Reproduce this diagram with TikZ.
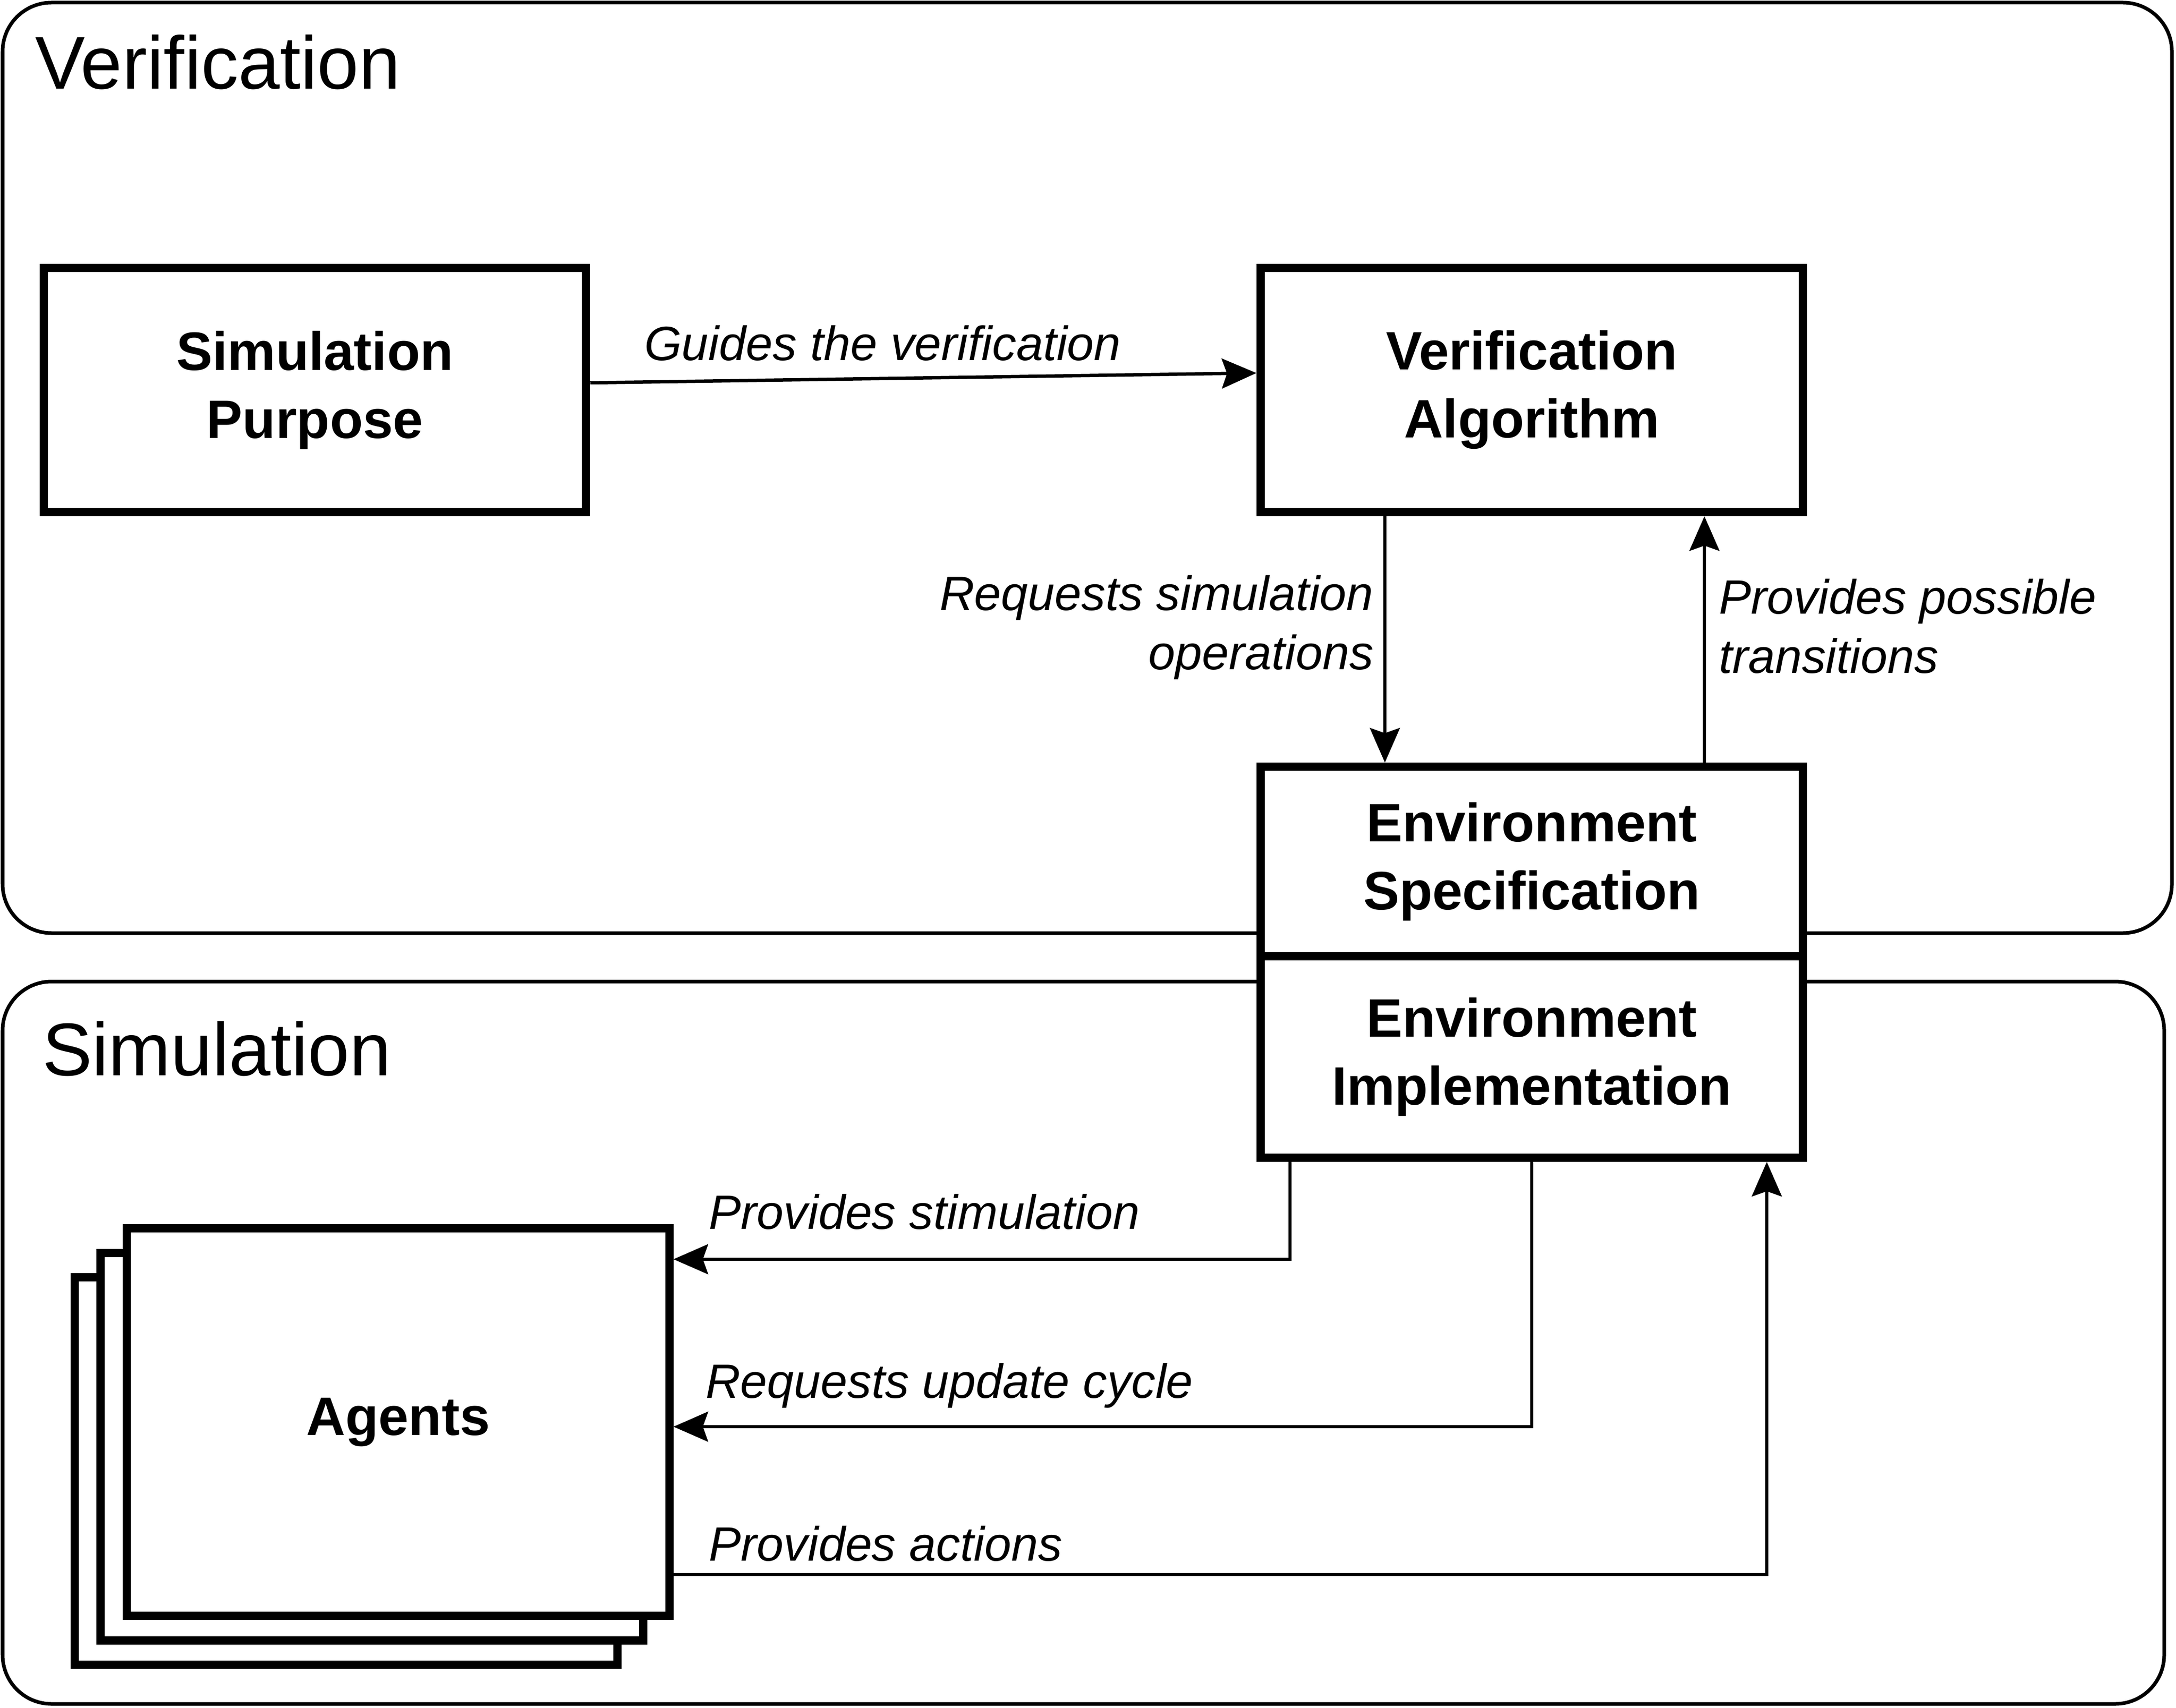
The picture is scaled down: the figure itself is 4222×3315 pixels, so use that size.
\documentclass[tikz,border=0pt]{standalone}
\usepackage{fontspec}
\setmainfont{Liberation Sans}
\usetikzlibrary{arrows.meta}
\tikzset{
  region/.style={draw,line width=1.4pt,rounded corners=19pt},
  block/.style={draw,fill=white,shape=rectangle,line width=3.2pt,minimum width=210.5pt,inner sep=0pt,align=center,font=\fontsize{21}{26.4}\selectfont\bfseries},
  flow/.style={line width=1.3pt,-{Stealth[length=13.4pt,width=11.6pt,inset=2pt]}},
  lab/.style={inner sep=0pt,font=\fontsize{18.7}{23}\selectfont\itshape},
  title/.style={inner sep=0pt,anchor=base west,font=\fontsize{29}{34}\selectfont}
}
\begin{document}
\begin{tikzpicture}[x=0.2pt,y=-0.2pt]
\useasboundingbox (0,0) rectangle (4222,3315);

\draw[region] (5,5) rectangle (4214,1811);
\draw[region] (5,1905) rectangle (4199,3307);
\node (vertitle) [title] at (67,173) {Verification};
\node (simtitle) [title] at (81,2087) {Simulation};

\node (purpose) [block,minimum height=94.8pt] at (611,757) {Simulation\\Purpose};
\node (algorithm) [block,minimum height=94.8pt] at (2972,757) {Verification\\Algorithm};
\node (envspec) [block,minimum height=73.6pt] at (2972,1672) {Environment\\Specification};
\node (envimpl) [block,minimum height=78.2pt] at (2972,2051.5) {Environment\\Implementation};

\node (agentsback) [block,minimum height=150.4pt] at (671.5,2855) {};
\node (agentsmid) [block,minimum height=150.4pt] at (721.5,2807.5) {};
\node (agents) [block,minimum height=150.4pt] at (772.5,2760) {Agents};

\draw[flow] ([yshift=2.8pt]purpose.east) -- ([yshift=6.6pt]algorithm.west);
\draw[flow] ([xshift=-57pt]algorithm.south) -- ([xshift=-57pt]envspec.north);
\draw[flow] ([xshift=67pt]envspec.north) -- ([xshift=67pt]algorithm.south);
\draw[flow] ([xshift=-93.8pt]envimpl.south) |- ([yshift=63.2pt]agents.east);
\draw[flow] (envimpl.south) |- ([yshift=-1.8pt]agents.east);
\draw[flow] ([yshift=-59.2pt]agents.east) -| ([xshift=91.2pt]envimpl.south);

\node (guides) [lab,anchor=base west] at (1249,700) {Guides the verification};
\node (requests) [lab,anchor=base east,align=right] at (2666,1299) {Requests simulation\\operations};
\node (possible) [lab,anchor=base west,align=left] at (3334,1306) {Provides possible\\transitions};
\node (stimulation) [lab,anchor=base west] at (1374,2385) {Provides stimulation};
\node (update) [lab,anchor=base west] at (1368,2713) {Requests update cycle};
\node (actions) [lab,anchor=base west] at (1374,3029) {Provides actions};

\end{tikzpicture}
\end{document}
